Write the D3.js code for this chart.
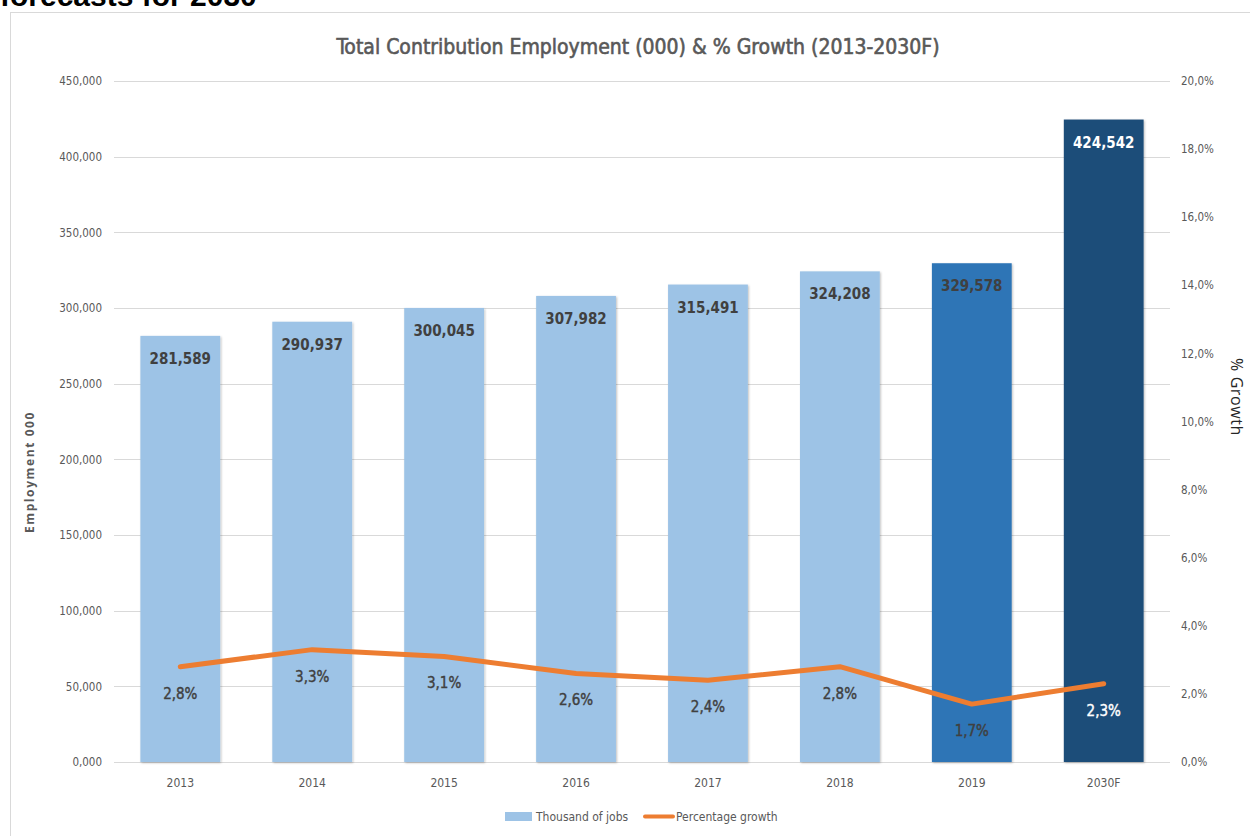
<!DOCTYPE html>
<html>
<head>
<meta charset="utf-8">
<script src="https://cdn.jsdelivr.net/npm/d3@7"></script>
<style>
  html, body { margin: 0; padding: 0; background: #fff; }
  svg { display: block; }
  .narrow { font-family: "DejaVu Sans Condensed", "Liberation Sans Narrow", sans-serif; }
</style>
</head>
<body>
<svg id="chart" width="1250" height="836"></svg>
<script>
// Employment (thousands) and year-on-year growth, 2013–2030F
const years = ["2013", "2014", "2015", "2016", "2017", "2018", "2019", "2030F"];
const jobs = [281589, 290937, 300045, 307982, 315491, 324208, 329578, 424542];
const growth = [2.8, 3.3, 3.1, 2.6, 2.4, 2.8, 1.7, 2.3];
const barColors = ["#9dc3e6", "#9dc3e6", "#9dc3e6", "#9dc3e6", "#9dc3e6", "#9dc3e6", "#2e75b6", "#1f4e79"];
const labelColors = ["#404040", "#404040", "#404040", "#404040", "#404040", "#404040", "#404040", "#ffffff"];
const leftTicks = [0, 50000, 100000, 150000, 200000, 250000, 300000, 350000, 400000, 450000];
const leftTickLabels = ["0,000", "50,000", "100,000", "150,000", "200,000", "250,000", "300,000", "350,000", "400,000", "450,000"];
const rightTicks = [0, 2, 4, 6, 8, 10, 12, 14, 16, 18, 20];
const rightTickLabels = ["0,0%", "2,0%", "4,0%", "6,0%", "8,0%", "10,0%", "12,0%", "14,0%", "16,0%", "18,0%", "20,0%"];

const svg = d3.select("#chart");
const plot = { left: 114, right: 1170, top: 81, bottom: 762 };

const x = d3.scaleBand().domain(years).range([plot.left, plot.right]).paddingInner(0.395).paddingOuter(0.2);
const yL = d3.scaleLinear().domain([0, 450000]).range([plot.bottom, plot.top]);
const yR = d3.scaleLinear().domain([0, 20]).range([plot.bottom, plot.top]);

// Heading above the chart frame (partly cropped at the top edge)
svg.append("text")
  .attr("x", 0).attr("y", 6)
  .attr("font-family", "Liberation Sans, Arial, sans-serif")
  .attr("font-weight", "bold").attr("font-size", 30).attr("fill", "#000")
  .text("forecasts for 2030");

// Chart frame
svg.append("rect")
  .attr("x", 10.5).attr("y", 12.5).attr("width", 1250).attr("height", 840)
  .attr("fill", "#fff").attr("stroke", "#d9d9d9").attr("stroke-width", 1);

// Title
svg.append("text")
  .attr("class", "narrow")
  .attr("x", 638).attr("y", 54)
  .attr("text-anchor", "middle")
  .attr("font-size", 21).attr("fill", "#595959")
  .attr("stroke", "#595959").attr("stroke-width", 0.6)
  .text("Total Contribution Employment (000) & % Growth (2013-2030F)");

// Horizontal gridlines
svg.append("g").selectAll("line").data(leftTicks).join("line")
  .attr("x1", plot.left).attr("x2", plot.right)
  .attr("y1", d => Math.round(yL(d)) + 0.5).attr("y2", d => Math.round(yL(d)) + 0.5)
  .attr("stroke", "#d9d9d9").attr("stroke-width", 1);

// Left axis
const leftAxis = d3.axisLeft(yL).tickValues(leftTicks).tickSize(0).tickPadding(12)
  .tickFormat((d, i) => leftTickLabels[i]);
svg.append("g").attr("transform", `translate(${plot.left},0)`).call(leftAxis)
  .call(g => g.select(".domain").remove())
  .call(g => g.selectAll("text").attr("class", "narrow").attr("font-size", 11.5).attr("fill", "#595959"));

// Right axis
const rightAxis = d3.axisRight(yR).tickValues(rightTicks).tickSize(0).tickPadding(11)
  .tickFormat((d, i) => rightTickLabels[i]);
svg.append("g").attr("transform", `translate(${plot.right},0)`).call(rightAxis)
  .call(g => g.select(".domain").remove())
  .call(g => g.selectAll("text").attr("class", "narrow").attr("font-size", 11.5).attr("fill", "#595959"));

// Bottom axis
const bottomAxis = d3.axisBottom(x).tickSize(0).tickPadding(16);
svg.append("g").attr("transform", `translate(0,${plot.bottom})`).call(bottomAxis)
  .call(g => g.select(".domain").remove())
  .call(g => g.selectAll("text").attr("class", "narrow").attr("font-size", 12).attr("fill", "#595959"));

// Axis titles
svg.append("text")
  .attr("transform", `translate(34,472) rotate(-90)`)
  .attr("text-anchor", "middle")
  .attr("font-family", "Open Sans, sans-serif").attr("font-weight", "bold")
  .attr("font-size", 12).attr("letter-spacing", 1.6).attr("fill", "#595959")
  .text("Employment 000");

svg.append("text")
  .attr("transform", `translate(1231,397) rotate(90)`)
  .attr("text-anchor", "middle")
  .attr("font-family", "Open Sans, sans-serif")
  .attr("font-size", 16).attr("letter-spacing", 0.6).attr("fill", "#262626")
  .text("% Growth");

// Soft shadow for bars
const defs = svg.append("defs");
const f = defs.append("filter").attr("id", "shadow").attr("x", "-10%").attr("y", "-10%").attr("width", "130%").attr("height", "130%");
f.append("feDropShadow").attr("dx", 1).attr("dy", 1).attr("stdDeviation", 1.2).attr("flood-color", "#000").attr("flood-opacity", 0.25);

// Bars
svg.append("g").selectAll("rect").data(jobs).join("rect")
  .attr("x", (d, i) => x(years[i]))
  .attr("y", d => yL(d))
  .attr("width", x.bandwidth())
  .attr("height", d => plot.bottom - yL(d))
  .attr("fill", (d, i) => barColors[i])
  .attr("filter", "url(#shadow)");

// Bar value labels
svg.append("g").selectAll("text").data(jobs).join("text")
  .attr("class", "narrow")
  .attr("x", (d, i) => x(years[i]) + x.bandwidth() / 2)
  .attr("y", d => yL(d) + 28)
  .attr("text-anchor", "middle")
  .attr("font-size", 15).attr("font-weight", "bold")
  .attr("fill", (d, i) => labelColors[i])
  .text(d => d3.format(",")(d));

// Growth line
const line = d3.line()
  .x((d, i) => x(years[i]) + x.bandwidth() / 2)
  .y(d => yR(d));
svg.append("path").datum(growth)
  .attr("d", line)
  .attr("fill", "none")
  .attr("stroke", "#ed7d31").attr("stroke-width", 5)
  .attr("stroke-linejoin", "round").attr("stroke-linecap", "round");

// Growth labels
svg.append("g").selectAll("text").data(growth).join("text")
  .attr("class", "narrow")
  .attr("x", (d, i) => x(years[i]) + x.bandwidth() / 2)
  .attr("y", d => yR(d) + 32)
  .attr("text-anchor", "middle")
  .attr("font-size", 15)
  .attr("fill", (d, i) => labelColors[i])
  .attr("stroke", (d, i) => labelColors[i]).attr("stroke-width", 0.4)
  .text(d => d3.format(".1f")(d).replace(".", ",") + "%");

// Legend
const legend = svg.append("g").attr("transform", "translate(505,816)");
legend.append("rect").attr("x", 0).attr("y", -4).attr("width", 27).attr("height", 9).attr("fill", "#9dc3e6");
legend.append("text").attr("class", "narrow").attr("x", 31).attr("y", 4.5)
  .attr("font-size", 12).attr("fill", "#595959").text("Thousand of jobs");
legend.append("line").attr("x1", 140).attr("x2", 168).attr("y1", 0.5).attr("y2", 0.5)
  .attr("stroke", "#ed7d31").attr("stroke-width", 4).attr("stroke-linecap", "round");
legend.append("text").attr("class", "narrow").attr("x", 171).attr("y", 4.5)
  .attr("font-size", 12).attr("fill", "#595959").text("Percentage growth");
</script>
</body>
</html>
